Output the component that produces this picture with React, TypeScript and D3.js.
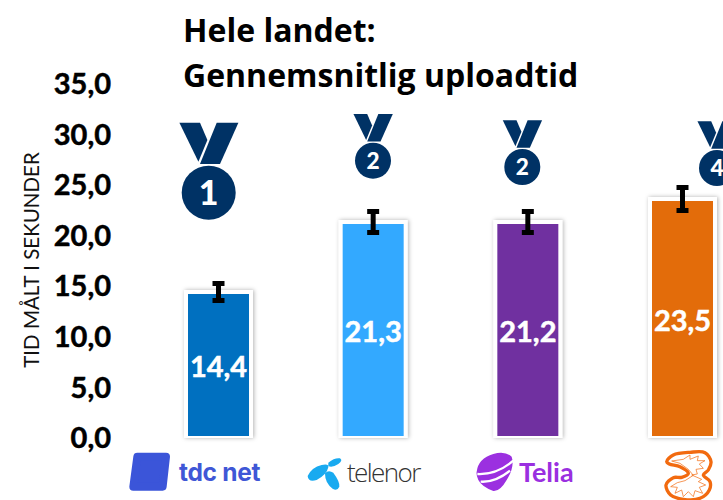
import React from "react";
import * as d3 from "d3";

const W = 723, H = 500;
const FONT = "Lato, 'Open Sans', sans-serif";
const operators = ["TDC NET", "Telenor", "Telia", "3"];
const values = [14.2, 21.2, 21.2, 23.5];
const labels = ["14,4", "21,3", "21,2", "23,5"];
const errHigh = [1.3, 1.5, 1.5, 1.6];
const errLow = [0.9, 1.1, 1.1, 1.2];
const colors = ["#0070c0", "#33a9ff", "#7030a0", "#e36c0a"];
const ranks = [1, 2, 2, 4];
const tickValues = [0, 5, 10, 15, 20, 25, 30, 35];
const titleLines = ["Hele landet:", "Gennemsnitlig uploadtid"];
const axisTitle = "TID MÅLT I SEKUNDER";
const medalX = [208.7, 373, 522.3, 717];
const medalY = [192.7, 160.7, 167, 168];
const medalR = [27, 18, 18, 18];

const x = d3.scalePoint<string>().domain(operators).range([218.5, 682.5]);
const y = d3.scaleLinear().domain([0, 35]).range([436, 86]);
const yTick = d3.scaleLinear().domain([0, 35]).range([438, 84]);
const fmt = (v: number) => v.toFixed(1).replace(".", ",");
const BAR_W = 61;

const closed = d3.line().curve(d3.curveCatmullRomClosed.alpha(0.5));
const open = d3.line().curve(d3.curveLinear);
const threeOuter: [number, number][] = [[80,65],[100,45],[150,37],[195,38],[213,65],[205,90],[190,105],[210,125],[208,150],[180,175],[130,178],[92,165],[78,135],[100,113],[125,112],[145,100],[120,80],[88,72]];
const threeInner: [number, number][] = [[95,63],[130,58],[150,45],[150,58],[175,48],[172,62],[195,62],[178,72],[190,85],[168,88],[172,102],[155,105],[185,118],[175,125],[197,135],[178,142],[188,160],[165,152],[160,170],[145,155],[130,170],[125,150],[105,160],[112,142],[92,140],[112,128],[135,122],[160,106],[145,88],[120,70],[95,63]];

function Medal({ cx, cy, r, n }: { cx: number; cy: number; r: number; n: number }) {
  const s = r / 27;
  return (
    <g transform={`translate(${cx},${cy}) scale(${s})`} fill="#003265">
      <path d="M-29.3,-70 L-8.7,-70 L-1.3,-52.7 L-10.3,-31 Z" />
      <path d="M8,-70 L29.7,-70 L11.3,-28.7 L-8.7,-28.7 Z" />
      <circle r={27} />
      <text y={12} textAnchor="middle" fontFamily={FONT} fontWeight={900} fontSize={34} fill="#fff">{n}</text>
    </g>
  );
}

export default function App() {
  return (
    <svg width={W} height={H} viewBox={`0 0 ${W} ${H}`} style={{ position: "absolute", left: 0, top: 0, background: "#fff" }}>
      <defs>
        <filter id="sh" x="-20%" y="-20%" width="140%" height="140%">
          <feDropShadow dx="1" dy="0" stdDeviation="2" floodColor="#000" floodOpacity="0.3" />
        </filter>
      </defs>
      {titleLines.map((t, i) => (
        <text key={t} x={183} y={42 + i * 44.5} fontFamily="'Open Sans', sans-serif" fontWeight={700} fontSize={32} fill="#000">{t}</text>
      ))}
      {tickValues.map(v => (
        <text key={v} x={111} y={yTick(v)} dy="0.35em" textAnchor="end" fontFamily={FONT} fontWeight={700} fontSize={29} fill="#000" stroke="#000" strokeWidth={0.5}>{fmt(v)}</text>
      ))}
      <text transform="translate(32,260) rotate(-90)" textAnchor="middle" dy="0.35em" fontFamily={FONT} fontSize={20.5} fill="#111">{axisTitle}</text>
      {operators.map((o, i) => {
        const cx = x(o)!;
        const top = y(values[i]);
        const hi = y(values[i] + errHigh[i]);
        const lo = y(values[i] - errLow[i]);
        return (
          <g key={o}>
            <rect x={cx - BAR_W / 2 - 4} y={top - 4} width={BAR_W + 8} height={y(0) - top + 6} fill="#fff" filter="url(#sh)" />
            <rect x={cx - BAR_W / 2} y={top} width={BAR_W} height={y(0) - top} fill={colors[i]} />
            <text x={cx} y={(top + y(0)) / 2 + 2} dy="0.35em" textAnchor="middle" fontFamily={FONT} fontWeight={700} fontSize={29} fill="#fff" stroke="#fff" strokeWidth={0.5}>{labels[i]}</text>
            <g stroke="#000" fill="none">
              <line x1={cx} x2={cx} y1={hi} y2={lo} strokeWidth={5} />
              <line x1={cx - 6} x2={cx + 6} y1={hi + 2.5} y2={hi + 2.5} strokeWidth={5} />
              <line x1={cx - 6} x2={cx + 6} y1={lo - 2.5} y2={lo - 2.5} strokeWidth={5} />
            </g>
            <Medal cx={medalX[i]} cy={medalY[i]} r={medalR[i]} n={ranks[i]} />
          </g>
        );
      })}
      {/* TDC logo */}
      <g transform="translate(120,430) scale(0.3333)">
        <path d="M52,80 L138,80 L128,170 L40,170 Z" fill="#3b55d9" stroke="#3b55d9" strokeWidth={24} strokeLinejoin="round" />
      </g>
      <text x={179} y={481} fontFamily="Inter, Lato, sans-serif" fontWeight={700} fontSize={24.5} letterSpacing={-0.3} fill="#3f57d6">tdc net</text>
      {/* Telenor logo */}
      <g transform="translate(120,430) scale(0.3333)" fill="#19aaf0">
        <path d="M563,138 Q575,112 605,105 Q628,100 625,112 Q620,135 590,150 Q565,158 563,138 Z" />
        <path d="M625,98 Q645,82 660,85 Q670,92 655,102 Q635,115 625,108 Z" />
        <path d="M615,130 Q625,118 640,128 Q660,155 658,170 Q652,184 638,176 Q615,160 615,130 Z" />
      </g>
      <text x={347} y={482} fontFamily="'Open Sans', sans-serif" fontWeight={300} fontSize={26} letterSpacing={-1.6} fill="#333">telenor</text>
      {/* Telia logo */}
      <g transform="translate(460,430) scale(0.3333)">
        <path d="M50,125 Q55,85 100,72 Q135,62 155,80 Q165,110 140,150 Q120,185 100,183 Q65,170 55,150 Q48,135 50,125 Z" fill="#9b30e0" />
        <path d="M52,132 Q110,135 160,92 M62,155 Q105,158 150,122" stroke="#fff" strokeWidth={7} fill="none" />
      </g>
      <text x={519} y={482} fontFamily={FONT} fontWeight={700} fontSize={27} fill="#9a2fe0">Telia</text>
      {/* 3 logo */}
      <g transform="translate(640,440) scale(0.3333)" fill="none" stroke="#f26a0f" strokeLinejoin="round">
        <path d={closed(threeOuter)!} fill="#fff" strokeWidth={10} />
        <path d={open(threeInner)!} strokeWidth={3} opacity={0.7} />
      </g>
    </svg>
  );
}
